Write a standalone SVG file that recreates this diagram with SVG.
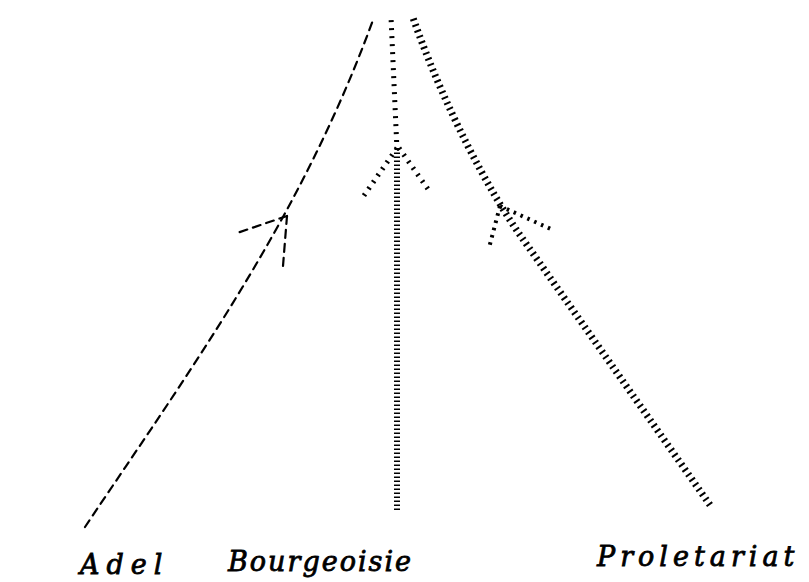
<svg xmlns="http://www.w3.org/2000/svg" width="809" height="582" viewBox="0 0 809 582">
<style>
.adel{fill:none;stroke:#000;stroke-width:2.2;stroke-dasharray:8 6;stroke-linecap:round}
.bour{fill:none;stroke:#000;stroke-width:6;stroke-dasharray:1.6 2.4}
.bourtop{fill:none;stroke:#000;stroke-width:5;stroke-dasharray:2 6}
.prol{fill:none;stroke:#000;stroke-width:7;stroke-dasharray:2 4}
.prolhead{fill:none;stroke:#000;stroke-width:4;stroke-dasharray:2.5 5}
.lbl{font-family:"DejaVu Serif","Liberation Serif",serif;font-style:italic;font-size:27px;fill:#000;stroke:#000;stroke-width:0.8}
</style>
<rect width="809" height="582" fill="#fff"/>
<g id="connectors">
<g id="adel-line">
<path class="adel" d="M85,527 C190,370 300,220 373,20"/>
<path class="adel" d="M287,216 L237,233"/>
<path class="adel" d="M287,216 L283,266"/>
</g>
<g id="bourgeoisie-line">
<path class="bour" d="M397,510 L397,150"/>
<path class="bourtop" d="M397,150 L391,17"/>
<path class="bourtop" d="M397,148 L363,197"/>
<path class="bourtop" d="M399,148 L430,192"/>
</g>
<g id="proletariat-line">
<path class="prol" d="M710,505 L520,235 C490,192 445,110 412,15"/>
<path class="prolhead" d="M500,206 L553,230"/>
<path class="prolhead" d="M500,206 L489,248"/>
</g>
</g>
<g id="adel"><text class="lbl" x="80" y="574" letter-spacing="7">Adel</text></g>
<g id="bourgeoisie"><text class="lbl" x="228" y="571" letter-spacing="2">Bourgeoisie</text></g>
<g id="proletariat"><text class="lbl" x="597" y="566" letter-spacing="5">Proletariat</text></g>
</svg>
